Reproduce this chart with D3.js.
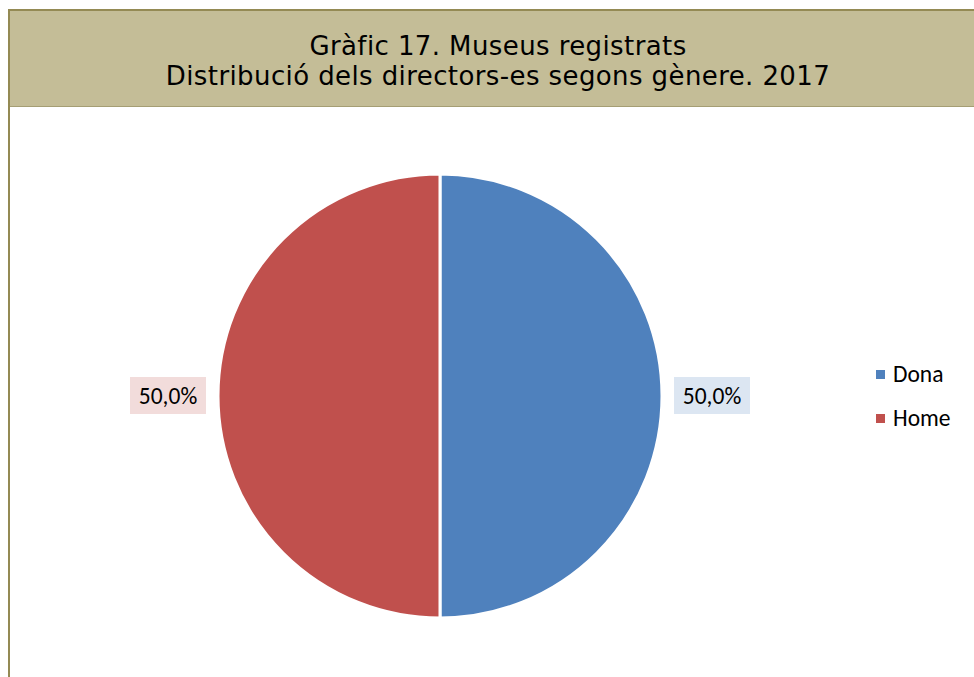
<!DOCTYPE html>
<html>
<head>
<meta charset="utf-8">
<script src="https://cdn.jsdelivr.net/npm/d3@7"></script>
<style>
  body { margin: 0; background: #fff; }
  svg { display: block; }
</style>
</head>
<body>
<svg id="chart"></svg>
<script>
// data
const categories = ['Dona', 'Home'];
const values = [50.0, 50.0];
const colors = ['#4F81BD', '#C0504D'];
const labelBg = ['#DCE6F2', '#F2DCDB'];
const titleLines = ['Gràfic 17. Museus registrats', 'Distribució dels directors-es segons gènere. 2017'];

const width = 974, height = 677;
const svg = d3.select('#chart').attr('width', width).attr('height', height);

// frame + title band
svg.append('rect')
    .attr('x', 9).attr('y', 9).attr('width', width).attr('height', 98)
    .attr('fill', '#C4BD97');
svg.append('line')
    .attr('x1', 8).attr('x2', width).attr('y1', 10).attr('y2', 10)
    .attr('stroke', '#948A54').attr('stroke-width', 2);
svg.append('line')
    .attr('x1', 9).attr('x2', width).attr('y1', 106.5).attr('y2', 106.5)
    .attr('stroke', '#A59E74').attr('stroke-width', 1);
svg.append('line')
    .attr('x1', 9).attr('x2', 9).attr('y1', 9).attr('y2', height)
    .attr('stroke', '#948A54').attr('stroke-width', 2);

svg.selectAll('.title')
    .data(titleLines)
    .join('text')
    .attr('class', 'title')
    .attr('x', 498)
    .attr('y', (d, i) => 55 + i * 30)
    .attr('text-anchor', 'middle')
    .attr('font-family', 'DejaVu Sans, Verdana, sans-serif')
    .attr('font-size', 26)
    .attr('letter-spacing', 0.4)
    .attr('fill', '#000')
    .text(d => d);

// pie
const cx = 440, cy = 396, r = 222;
const pie = d3.pie().sort(null).value(d => d);
const arc = d3.arc().innerRadius(0).outerRadius(r);
const arcs = pie(values);

const g = svg.append('g').attr('transform', `translate(${cx},${cy})`);
g.selectAll('path')
    .data(arcs)
    .join('path')
    .attr('d', arc)
    .attr('fill', (d, i) => colors[i])
    .attr('stroke', '#fff')
    .attr('stroke-width', 3);

// data labels
const fmt = v => d3.format('.1f')(v).replace('.', ',') + '%';
const lbl = g.selectAll('.lbl')
    .data(arcs)
    .join('g')
    .attr('class', 'lbl')
    .attr('transform', d => {
        const mid = (d.startAngle + d.endAngle) / 2;
        const dist = r + 50;
        return `translate(${Math.sin(mid) * dist},${-Math.cos(mid) * dist})`;
    });
lbl.append('rect')
    .attr('x', -38).attr('y', -19).attr('width', 76).attr('height', 37)
    .attr('fill', (d, i) => labelBg[i]);
lbl.append('text')
    .attr('text-anchor', 'middle')
    .attr('y', 8)
    .attr('font-family', 'Carlito, Liberation Sans, sans-serif')
    .attr('font-size', 23.5)
    .attr('fill', '#000')
    .text(d => fmt(d.data));

// legend
const legend = svg.selectAll('.legend')
    .data(categories)
    .join('g')
    .attr('class', 'legend')
    .attr('transform', (d, i) => `translate(876,${370 + i * 44})`);
legend.append('rect')
    .attr('width', 9).attr('height', 9)
    .attr('fill', (d, i) => colors[i]);
legend.append('text')
    .attr('x', 17).attr('y', 12)
    .attr('font-family', 'Carlito, Liberation Sans, sans-serif')
    .attr('font-size', 23.5)
    .attr('fill', '#000')
    .text(d => d);
</script>
</body>
</html>
